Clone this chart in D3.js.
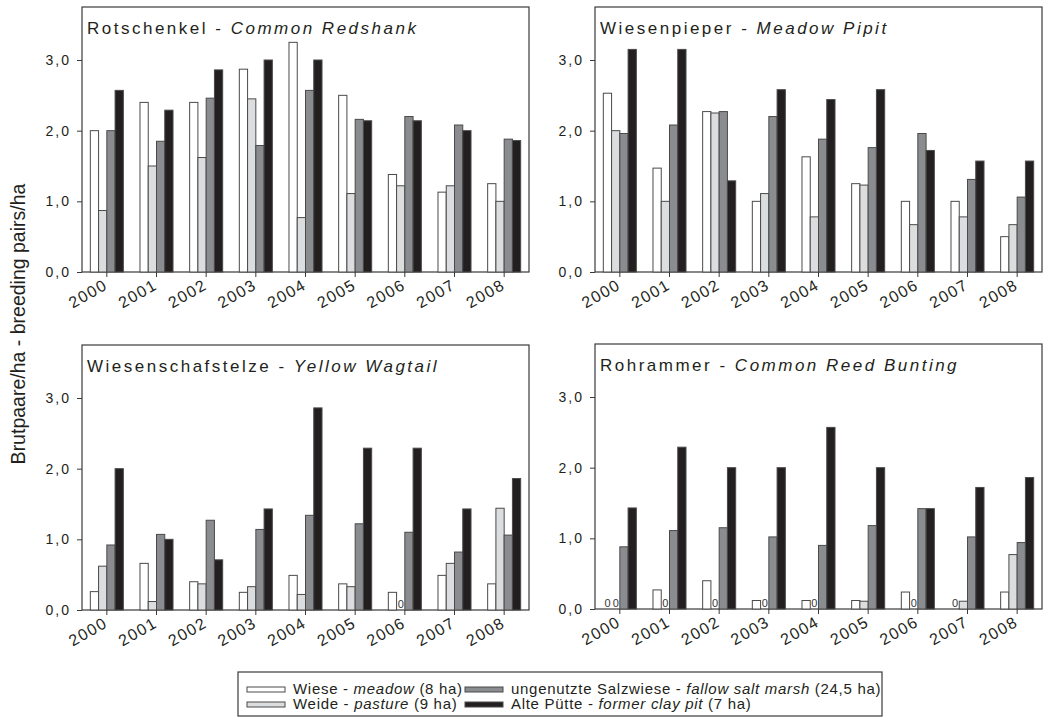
<!DOCTYPE html>
<html>
<head>
<meta charset="utf-8">
<script src="https://cdn.jsdelivr.net/npm/d3@7"></script>
<style>
  body { margin: 0; background: #fff; }
  svg { display: block; font-family: 'Liberation Sans', Arial, sans-serif; }
</style>
</head>
<body>
<svg id="chart" width="1043" height="718"></svg>
<script>
// years on the x axis
const years = ['2000', '2001', '2002', '2003', '2004', '2005', '2006', '2007', '2008']
const yTicks = [0, 1, 2, 3]

// habitats (series)
const habitats = ['meadow', 'pasture', 'saltmarsh', 'claypit']
const habitatColors = ['#ffffff', '#dcdddf', '#8b8c90', '#231f20']

// breeding pairs/ha, one row per habitat: Wiese, Weide, Salzwiese, Pütte
const redshank = [
    [2.0, 2.4, 2.4, 2.87, 3.25, 2.5, 1.38, 1.13, 1.25],
    [0.87, 1.5, 1.62, 2.45, 0.77, 1.11, 1.22, 1.22, 1.0],
    [2.0, 1.85, 2.46, 1.79, 2.57, 2.16, 2.2, 2.08, 1.88],
    [2.57, 2.29, 2.86, 3.0, 3.0, 2.14, 2.14, 2.0, 1.86],
]
const meadowPipit = [
    [2.53, 1.47, 2.27, 1.0, 1.63, 1.25, 1.0, 1.0, 0.5],
    [2.0, 1.0, 2.25, 1.11, 0.78, 1.23, 0.67, 0.78, 0.67],
    [1.96, 2.08, 2.27, 2.2, 1.88, 1.76, 1.96, 1.31, 1.06],
    [3.15, 3.15, 1.29, 2.58, 2.44, 2.58, 1.72, 1.57, 1.57],
]
const yellowWagtail = [
    [0.26, 0.66, 0.4, 0.25, 0.49, 0.37, 0.25, 0.49, 0.37],
    [0.62, 0.12, 0.37, 0.33, 0.22, 0.33, 0, 0.66, 1.44],
    [0.92, 1.07, 1.27, 1.14, 1.34, 1.22, 1.1, 0.82, 1.06],
    [2.0, 1.0, 0.71, 1.43, 2.86, 2.29, 2.29, 1.43, 1.86],
]
const reedBunting = [
    [0, 0.27, 0.4, 0.12, 0.12, 0.12, 0.24, 0, 0.24],
    [0, 0, 0, 0, 0, 0.11, 0, 0.11, 0.77],
    [0.88, 1.11, 1.15, 1.02, 0.9, 1.18, 1.42, 1.02, 0.94],
    [1.43, 2.29, 2.0, 2.0, 2.57, 2.0, 1.42, 1.72, 1.86],
]

const panels = [
    { de: 'Rotschenkel', en: 'Common Redshank', values: redshank, left: 82, top: 7 },
    { de: 'Wiesenpieper', en: 'Meadow Pipit', values: meadowPipit, left: 595, top: 7 },
    { de: 'Wiesenschafstelze', en: 'Yellow Wagtail', values: yellowWagtail, left: 82, top: 345 },
    { de: 'Rohrammer', en: 'Common Reed Bunting', values: reedBunting, left: 595, top: 344 },
]

const legendItems = [
    { de: 'Wiese', en: 'meadow', area: '(8 ha)' },
    { de: 'Weide', en: 'pasture', area: '(9 ha)' },
    { de: 'ungenutzte Salzwiese', en: 'fallow salt marsh', area: '(24,5 ha)' },
    { de: 'Alte Pütte', en: 'former clay pit', area: '(7 ha)' },
]

const textColor = '#231f20'
const panelWidth = 447
const panelHeight = 265

const svg = d3.select('#chart')

const color = d3.scaleOrdinal().domain(habitats).range(habitatColors)
const commaFormat = d => d3.format('.1f')(d).replace('.', ',')

panels.forEach(function (p) {
    let g = svg.append('g').attr('transform', 'translate(' + p.left + ',' + p.top + ')')

    let x0 = d3.scaleBand().domain(years).range([0, panelWidth]).paddingInner(0.335).paddingOuter(0.1675)
    let x1 = d3.scaleBand().domain(habitats).range([0, x0.bandwidth()])
    let y = d3.scaleLinear().domain([0, 3.75]).range([panelHeight, 0])

    // frame
    g.append('rect')
        .attr('x', 0)
        .attr('y', 0)
        .attr('width', panelWidth)
        .attr('height', panelHeight)
        .attr('fill', 'none')
        .attr('stroke', '#3a3a3a')
        .attr('stroke-width', 1.2)

    // bars
    let flat = []
    p.values.forEach(function (row, i) {
        row.forEach(function (v, j) {
            flat.push({ year: years[j], habitat: habitats[i], value: v })
        })
    })

    g.selectAll('rect.bar')
        .data(flat.filter(d => d.value > 0))
        .enter()
        .append('rect')
        .attr('class', 'bar')
        .attr('x', d => x0(d.year) + x1(d.habitat))
        .attr('y', d => y(d.value))
        .attr('width', x1.bandwidth())
        .attr('height', d => panelHeight - y(d.value))
        .attr('fill', d => color(d.habitat))
        .attr('stroke', '#4a4a4a')
        .attr('stroke-width', 1)

    // zero labels
    g.selectAll('text.zero')
        .data(flat.filter(d => d.value === 0))
        .enter()
        .append('text')
        .attr('class', 'zero')
        .attr('x', d => x0(d.year) + x1(d.habitat) + x1.bandwidth() / 2)
        .attr('y', panelHeight - 2)
        .attr('text-anchor', 'middle')
        .attr('font-size', '11px')
        .attr('fill', '#333')
        .style('opacity', 0.99)
        .text('0')

    // y axis
    let yAxis = d3.axisLeft(y).tickValues(yTicks).tickFormat(commaFormat).tickSize(5).tickPadding(6).tickSizeOuter(0)
    let ya = g.append('g').call(yAxis)
    ya.select('.domain').remove()
    ya.selectAll('line').attr('stroke', '#3a3a3a')
    ya.selectAll('text')
        .attr('font-size', '14px')
        .attr('letter-spacing', '2px')
        .attr('font-family', "'Liberation Sans', Arial, sans-serif")
        .attr('fill', textColor)

    // x axis
    let xAxis = d3.axisBottom(x0).tickSize(5).tickSizeOuter(0)
    let xa = g.append('g').attr('transform', 'translate(0,' + panelHeight + ')').call(xAxis)
    xa.select('.domain').remove()
    xa.selectAll('line').attr('stroke', '#3a3a3a')
    xa.selectAll('text')
        .attr('font-size', '16px')
        .attr('letter-spacing', '1.5px')
        .attr('font-family', "'Liberation Sans', Arial, sans-serif")
        .attr('fill', textColor)
        .attr('text-anchor', 'end')
        .attr('dy', null)
        .attr('y', 0)
        .attr('transform', 'translate(2,16) rotate(-30)')

    // title
    let title = g.append('text')
        .attr('x', 5)
        .attr('y', 27)
        .attr('font-size', '17px')
        .attr('letter-spacing', '2.5px')
        .attr('fill', textColor)
    title.append('tspan').text(p.de + ' - ')
    title.append('tspan').attr('font-style', 'italic').text(p.en)
})

// y axis label
svg.append('text')
    .attr('transform', 'translate(25,324) rotate(-90)')
    .attr('text-anchor', 'middle')
    .attr('font-size', '19.5px')
    .attr('fill', textColor)
    .text('Brutpaare/ha - breeding pairs/ha')

// legend
let legend = svg.append('g').attr('transform', 'translate(238,672)')
legend.append('rect')
    .attr('width', 644)
    .attr('height', 44)
    .attr('fill', '#fff')
    .attr('stroke', '#3a3a3a')
    .attr('stroke-width', 1.2)

let legendPos = [
    [9, 22],
    [9, 37],
    [227, 22],
    [227, 37],
]
legendItems.forEach(function (item, i) {
    let pos = legendPos[i]
    let li = legend.append('g').attr('transform', 'translate(' + pos[0] + ',' + pos[1] + ')')
    li.append('rect')
        .attr('x', 0)
        .attr('y', -7)
        .attr('width', 38)
        .attr('height', 5)
        .attr('fill', color(habitats[i]))
        .attr('stroke', '#4a4a4a')
    let t = li.append('text')
        .attr('x', 46)
        .attr('y', 0)
        .attr('font-size', '15px')
        .attr('letter-spacing', '0.7px')
        .attr('fill', textColor)
    t.append('tspan').text(item.de + ' - ')
    t.append('tspan').attr('font-style', 'italic').text(item.en)
    t.append('tspan').text(' ' + item.area)
})
</script>
</body>
</html>
